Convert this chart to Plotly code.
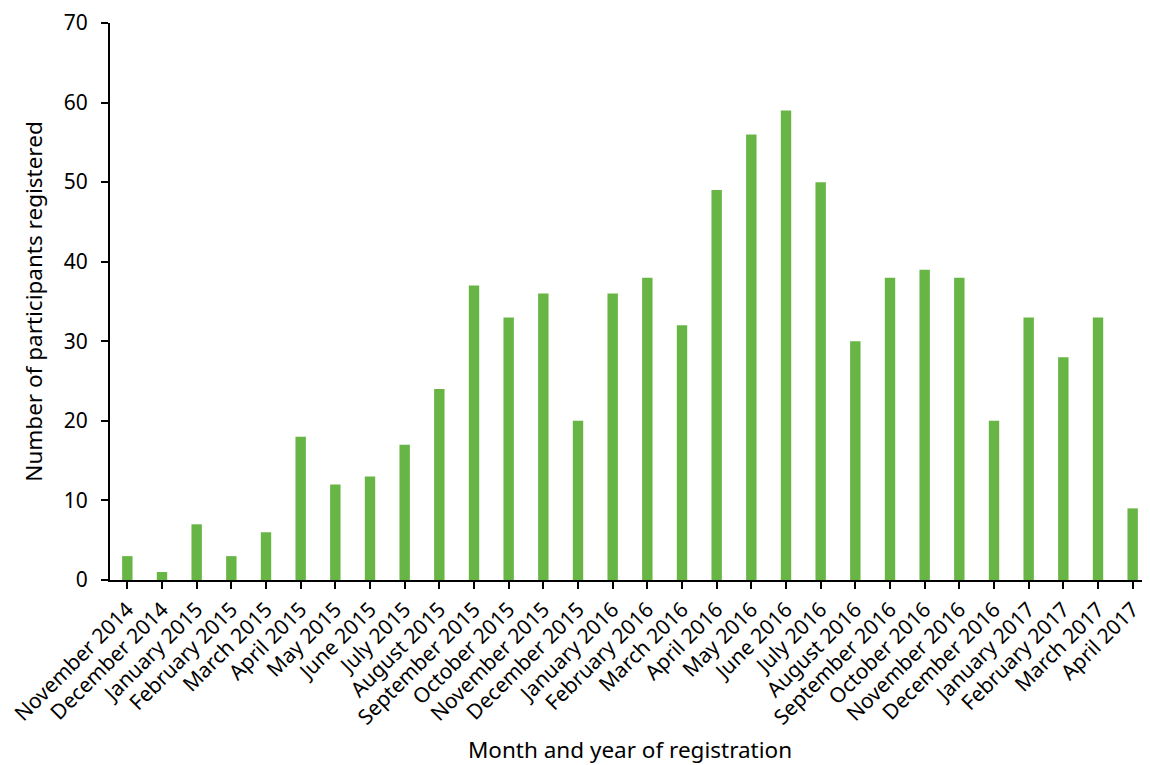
import plotly.graph_objects as go

months = ["November 2014", "December 2014", "January 2015", "February 2015", "March 2015",
          "April 2015", "May 2015", "June 2015", "July 2015", "August 2015",
          "September 2015", "October 2015", "November 2015", "December 2015", "January 2016",
          "February 2016", "March 2016", "April 2016", "May 2016", "June 2016",
          "July 2016", "August 2016", "September 2016", "October 2016", "November 2016",
          "December 2016", "January 2017", "February 2017", "March 2017", "April 2017"]
participants = [3, 1, 7, 3, 6, 18, 12, 13, 17, 24, 37, 33, 36, 20, 36, 38, 32, 49, 56, 59,
                50, 30, 38, 39, 38, 20, 33, 28, 33, 9]

fig = go.Figure(go.Bar(x=months, y=participants, marker_color="#66b545",
                       marker_line_width=0, width=0.3))

font = "Noto Sans, Open Sans, sans-serif"
fig.update_layout(
    width=1142, height=757,
    margin=dict(l=102, r=0, t=15, b=185),
    plot_bgcolor="white", paper_bgcolor="white",
    font=dict(family=font, size=21, color="black"),
    showlegend=False,
)
fig.update_xaxes(
    tickangle=-45, showline=True, linecolor="black", linewidth=2,
    ticks="outside", ticklen=7, tickwidth=2, tickcolor="black",
    range=[-0.5, 29.5], automargin=False, ticklabeloverflow="allow",
    tickfont=dict(size=21),
    title=dict(text="Month and year of registration", font=dict(size=22.5)),
)
fig.update_yaxes(
    range=[0, 70], dtick=10, showline=True, linecolor="black", linewidth=2,
    ticks="outside", ticklen=7, tickwidth=2, tickcolor="black",
    showgrid=False, zeroline=False, automargin=False, ticklabeloverflow="allow",
    ticklabelstandoff=9,
    tickfont=dict(size=21),
    title=dict(text="Number of participants registered", font=dict(size=22.5)),
)

fig.write_html("out.html")
